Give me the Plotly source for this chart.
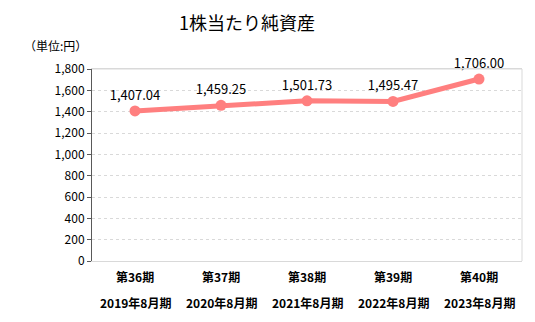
import plotly.graph_objects as go

periods = ["第36期", "第37期", "第38期", "第39期", "第40期"]
fiscal = ["2019年8月期", "2020年8月期", "2021年8月期", "2022年8月期", "2023年8月期"]
values = [1407.04, 1459.25, 1501.73, 1495.47, 1706.00]
yticks = [0, 200, 400, 600, 800, 1000, 1200, 1400, 1600, 1800]

FONT = "Noto Sans CJK JP"

fig = go.Figure()
fig.add_trace(go.Scatter(
    x=periods, y=values, mode="lines+markers+text",
    line=dict(color="#FF7F7F", width=5),
    marker=dict(color="#FF7F7F", size=11),
    text=[f"{v:,.2f}" for v in values],
    textposition="top center",
    textfont=dict(family=FONT, size=13, color="#000000"),
    cliponaxis=False,
    showlegend=False,
))

for p, f in zip(periods, fiscal):
    fig.add_annotation(x=p, y=0, xref="x", yref="paper", text=f"<b>{p}</b>",
                       showarrow=False, yshift=-15, yanchor="middle",
                       font=dict(family=FONT, size=12, color="#000000"))
    fig.add_annotation(x=p, y=0, xref="x", yref="paper", text=f"<b>{f}</b>",
                       showarrow=False, yshift=-41, yanchor="middle",
                       font=dict(family=FONT, size=12, color="#000000"))

fig.add_annotation(xref="paper", yref="paper",
                   x=(247 - 92) / 430, y=(261 - 22) / 192,
                   xanchor="center", yanchor="middle", text="1株当たり純資産",
                   showarrow=False, font=dict(family=FONT, size=18, color="#000000"))
fig.add_annotation(xref="paper", yref="paper", x=(22 - 92) / 430, y=(261 - 45) / 192,
                   xanchor="left", yanchor="middle", text="（単位:円）", showarrow=False,
                   font=dict(family=FONT, size=12, color="#000000"))

fig.update_layout(
    width=535, height=322,
    margin=dict(l=92, r=13, t=69, b=61),
    paper_bgcolor="white", plot_bgcolor="white",
    font=dict(family=FONT, size=12, color="#000000"),
    xaxis=dict(type="category", showticklabels=False, showgrid=False,
               showline=True, linecolor="#d9d9d9", linewidth=1, mirror=True,
               range=[-0.5, 4.5], ticks=""),
    yaxis=dict(range=[0, 1800], tickvals=yticks, tickformat=",",
               showgrid=True, gridcolor="#d9d9d9", griddash="dot", gridwidth=1,
               showline=True, linecolor="#595959", linewidth=1, mirror=False,
               ticks="outside", ticklen=4, tickcolor="#595959",
               tickfont=dict(family=FONT, size=12, color="#000000"), zeroline=False),
    shapes=[dict(type="line", xref="paper", yref="paper", x0=1, x1=1, y0=0, y1=1,
                 line=dict(color="#d9d9d9", width=1)),
            dict(type="line", xref="paper", yref="paper", x0=0, x1=1, y0=1, y1=1,
                 line=dict(color="#d9d9d9", width=1))],
)

fig.write_html("out.html")
